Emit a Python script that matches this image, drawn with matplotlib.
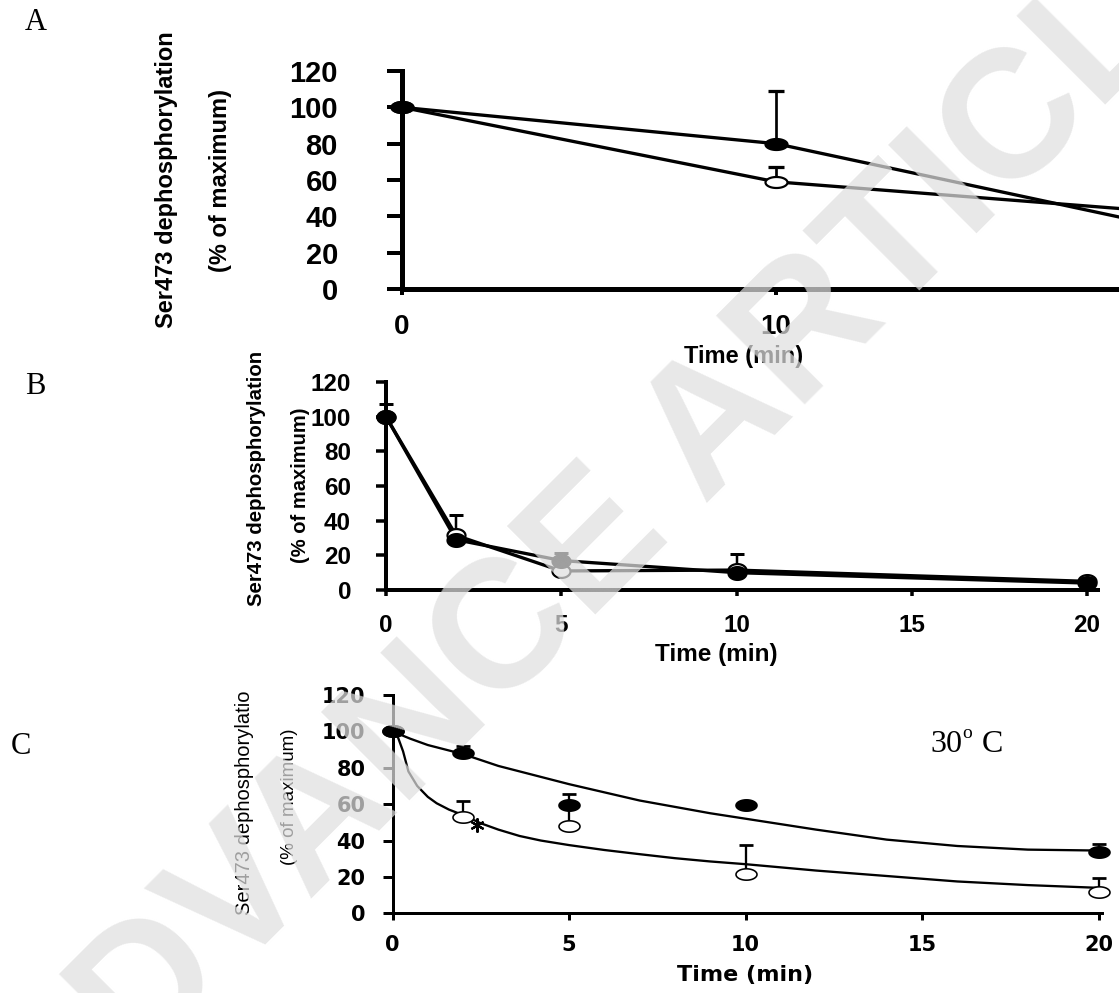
import numpy as np
import matplotlib
matplotlib.use("Agg")
import matplotlib.pyplot as plt
from matplotlib.path import Path
from matplotlib import font_manager

# ---------------- data ----------------
# Panel A
a_time = [0, 10, 20]
a_filled = [100, 80, 36]
a_open = [100, 59, 43]
a_filled_err = [0, 29, 0]
a_open_err = [0, 8, 0]
a_xticks = [0, 10]

# Panel B
b_time = [0, 2, 5, 10, 20]
b_filled = [100, 29, 17, 10, 4]
b_open = [100, 31.5, 11, 11.5, 5]
b_filled_err = [7.5, 0, 4.5, 0, 0]
b_open_err = [0, 12, 0, 9, 0]
b_xticks = [0, 5, 10, 15, 20]

# Panel C
c_time = [0, 2, 5, 10, 20]
c_filled = [100, 88, 59.5, 59.5, 33.5]
c_open = [100, 53, 48, 21.5, 11.5]
c_filled_err = [0, 4, 6, 0, 4.5]
c_open_err = [0, 9, 11, 16, 8]
c_xticks = [0, 5, 10, 15, 20]
# fitted curves
c_fit_filled_t = [0, 0.5, 1, 1.5, 2, 3, 4, 5, 6, 7, 8, 9, 10, 12, 14, 16, 18, 20]
c_fit_filled_y = [100, 96, 92.5, 90, 87.5, 81, 76, 71, 66.5, 62, 58.5, 55, 52, 46,
                  40.5, 37, 35, 34.5]
c_fit_open_t = [0, 0.15, 0.3, 0.45, 0.7, 1.0, 1.25, 1.6, 2.0, 2.5, 3.0, 3.6, 4.2, 5,
                6, 7, 8, 9, 10, 12, 14, 16, 18, 20]
c_fit_open_y = [100, 97, 89, 78, 70, 64, 60.5, 57, 54, 49.5, 46, 42.5, 40, 37.5,
                34.8, 32.5, 30.3, 28.5, 27, 23.5, 20.5, 17.5, 15.5, 14]
c_sig_t = [2.4]
c_sig_y = [48.5]

y_ticks = [0, 20, 40, 60, 80, 100, 120]

# ---------------- style ----------------
plt.rcParams['font.family'] = ['Liberation Sans', 'DejaVu Sans']
W, H = 1119, 993
DPI = 100
PX = 72.0 / DPI  # points per pixel

fig = plt.figure(figsize=(W / DPI, H / DPI), dpi=DPI)


def fx(px):
    return px / W


def fy(py):
    return 1 - py / H


theta = np.linspace(0, 2 * np.pi, 80)


def ellipse(ratio):
    verts = np.column_stack([np.cos(theta), np.sin(theta) / ratio])
    return Path(verts, closed=True)


def add_axes(x0, x1px, y0, y1px, xlim, ylim):
    ax = fig.add_axes([fx(x0), fy(y0), (x1px - x0) / W, (y0 - y1px) / H])
    ax.set_xlim(*xlim)
    ax.set_ylim(*ylim)
    ax.spines['top'].set_visible(False)
    ax.spines['right'].set_visible(False)
    ax.patch.set_alpha(0)
    return ax


def draw_series(ax, t, filled, opn, ferr, oerr, marker, ms, lw, elw, capsize, lines=True,
                mew=1.5):
    t = np.asarray(t, float)
    filled = np.asarray(filled, float)
    opn = np.asarray(opn, float)
    if lines:
        ax.plot(t, filled, color='black', lw=lw, zorder=2, clip_on=False)
        ax.plot(t, opn, color='black', lw=lw, zorder=2, clip_on=False)
    for y, e in ((filled, ferr), (opn, oerr)):
        e = np.asarray(e, float)
        m = e > 0
        if m.any():
            ax.errorbar(t[m], y[m], yerr=[np.zeros(m.sum()), e[m]], fmt='none',
                        ecolor='black', elinewidth=elw, capsize=capsize,
                        capthick=elw * 1.2, zorder=3, clip_on=False)
    ax.plot(t, opn, ls='none', marker=marker, ms=ms, mfc='white', mec='black',
            mew=mew, zorder=4, clip_on=False)
    ax.plot(t, filled, ls='none', marker=marker, ms=ms, mfc='black', mec='black',
            mew=mew, zorder=5, clip_on=False)


# ---------------- Panel A ----------------
axA = add_axes(402, 402 + 20 * 37.4, 289, 71, (0, 20), (0, 120))
for s in ('left', 'bottom'):
    axA.spines[s].set_linewidth(5 * PX)
draw_series(axA, a_time, a_filled, a_open, a_filled_err, a_open_err,
            ellipse(2.0), 22 * PX, 3.3 * PX, 2.7 * PX, 8 * PX, mew=2.2 * PX)
axA.set_yticks(y_ticks)
axA.set_xticks(a_xticks)
axA.tick_params(axis='y', length=15 * PX, width=4 * PX, pad=49 * PX, labelsize=21)
axA.tick_params(axis='x', length=6 * PX, width=4 * PX, pad=19 * PX, labelsize=20)
for lab in axA.get_xticklabels() + axA.get_yticklabels():
    lab.set_fontweight('bold')
fig.text(fx(744), fy(356), 'Time (min)', ha='center', va='center', fontsize=17,
         fontweight='bold')
fig.text(fx(167), fy(180), 'Ser473 dephosphorylation', rotation=90, ha='center',
         va='center', fontsize=17, fontweight='bold')
fig.text(fx(220), fy(181), '(% of maximum)', rotation=90, ha='center', va='center',
         fontsize=17, fontweight='bold')

# ---------------- Panel B ----------------
axB = add_axes(386, 386 + 20.3 * 35.05, 590, 382, (0, 20.3), (0, 120))
for s in ('left', 'bottom'):
    axB.spines[s].set_linewidth(4 * PX)
draw_series(axB, b_time, b_filled, b_open, b_filled_err, b_open_err,
            ellipse(1.4), 18 * PX, 3.3 * PX, 2.5 * PX, 7 * PX, mew=2.2 * PX)
axB.set_yticks(y_ticks)
axB.set_xticks(b_xticks)
axB.tick_params(axis='y', length=10 * PX, width=3.5 * PX, pad=25 * PX, labelsize=17.5)
axB.tick_params(axis='x', length=6 * PX, width=3.5 * PX, pad=18 * PX, labelsize=17.5)
for lab in axB.get_xticklabels() + axB.get_yticklabels():
    lab.set_fontweight('bold')
fig.text(fx(716), fy(655), 'Time (min)', ha='center', va='center', fontsize=17.5,
         fontweight='bold')
fig.text(fx(257), fy(478), 'Ser473 dephosphorylation', rotation=90, ha='center',
         va='center', fontsize=14.7, fontweight='bold')
fig.text(fx(300), fy(485), '(% of maximum)', rotation=90, ha='center', va='center',
         fontsize=14.5, fontweight='bold')

# ---------------- Panel C ----------------
axC = add_axes(392.5, 392.5 + 20.1 * 35.3, 913.3, 695, (0, 20.1), (0, 120))
for s in ('left', 'bottom'):
    axC.spines[s].set_linewidth(3 * PX)
axC.plot(c_fit_filled_t, c_fit_filled_y, color='black', lw=2.3 * PX, zorder=2,
         clip_on=False)
axC.plot(c_fit_open_t, c_fit_open_y, color='black', lw=2.3 * PX, zorder=2,
         clip_on=False)
draw_series(axC, c_time, c_filled, c_open, c_filled_err, c_open_err,
            ellipse(1.85), 21 * PX, 2 * PX, 2.3 * PX, 7 * PX, lines=False, mew=1.6 * PX)
axC.plot(c_sig_t, c_sig_y, ls='none', marker=(6, 2, 0), ms=14 * PX, mew=2.2 * PX,
         color='black', zorder=6)
axC.set_yticks(y_ticks)
axC.set_xticks(c_xticks)
axC.tick_params(axis='y', length=10 * PX, width=3 * PX, pad=17 * PX)
axC.tick_params(axis='x', length=7 * PX, width=3 * PX, pad=15 * PX)
for lab in axC.get_xticklabels() + axC.get_yticklabels():
    lab.set_fontfamily('DejaVu Sans')
    lab.set_fontweight('bold')
    lab.set_fontsize(15)
fig.text(fx(745), fy(975), 'Time (min)', ha='center', va='center', fontsize=16,
         fontweight='bold', family='DejaVu Sans')

try:
    font_manager.findfont(font_manager.FontProperties(family='Liberation Sans Narrow'),
                          fallback_to_default=False)
    narrow, nsize1, nsize2 = 'Liberation Sans Narrow', 17, 15.5
except Exception:
    narrow, nsize1, nsize2 = 'Liberation Sans', 14.5, 13.5
fig.text(fx(244), fy(803), 'Ser473 dephosphorylatio', rotation=90, ha='center',
         va='center', fontsize=nsize1, family=narrow)
fig.text(fx(289), fy(797), '(% of maximum)', rotation=90, ha='center', va='center',
         fontsize=nsize2, family=narrow)

# 30 ºC
fig.text(fx(930), fy(752), '30', ha='left', va='baseline', fontsize=23,
         family='Liberation Serif')
fig.text(fx(962), fy(738), 'o', ha='left', va='baseline', fontsize=14,
         family='Liberation Serif')
fig.text(fx(982), fy(752), 'C', ha='left', va='baseline', fontsize=23,
         family='Liberation Serif')

# panel letters
for letter, (px, py) in {'A': (36, 22), 'B': (35, 387), 'C': (21, 747)}.items():
    fig.text(fx(px), fy(py), letter, ha='center', va='center', fontsize=22,
             family='Liberation Serif')

# watermark
fig.text(fx(621), fy(523), 'ADVANCE ARTICLE', rotation=45, rotation_mode='anchor',
         ha='center', va='center', fontsize=131, fontweight='bold',
         family='Liberation Sans', color=(0.875, 0.875, 0.875), alpha=0.72, zorder=100)

fig.savefig('out.png', dpi=DPI)
